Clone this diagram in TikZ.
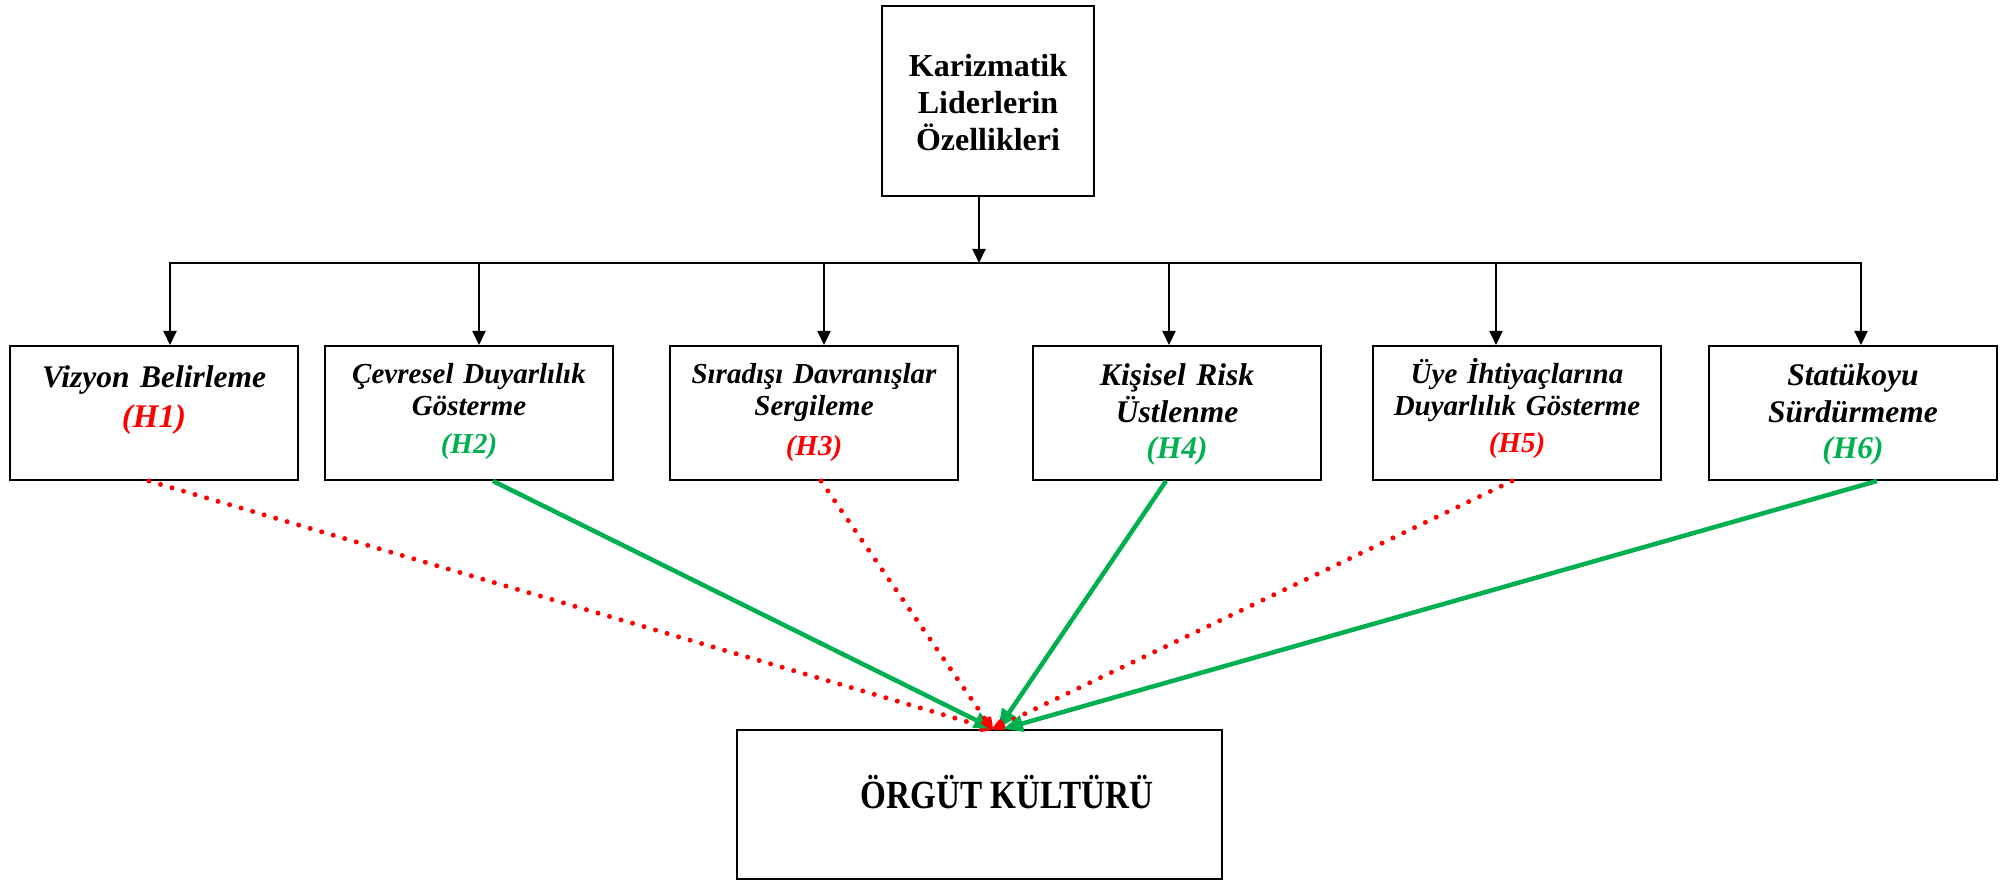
\documentclass[tikz,border=0pt]{standalone}
\usepackage{fontspec}
\setmainfont{Liberation Serif}
\usetikzlibrary{arrows.meta}
\definecolor{hred}{RGB}{255,0,0}
\definecolor{hgreen}{RGB}{0,176,80}
\begin{document}
\begin{tikzpicture}[x=1pt,y=-1pt,
  frame/.style={draw, line width=2pt, rectangle, inner sep=0pt},
  lbl/.style={anchor=base, align=center, inner sep=0pt, text width=#1},
  blk/.style={line width=2pt, line cap=rect},
  drop/.style={line width=2pt, -{Triangle[length=14pt,width=13pt]}},
  rejected/.style={hred, line width=5pt, line cap=round, dash pattern=on 0pt off 12pt,
    -{Triangle[length=15pt,width=13pt,round]}},
  supported/.style={hgreen, line width=4.5pt, -{Triangle[length=20pt,width=16pt]}},
  boxfont/.style={font=\fontsize{29}{32}\selectfont\bfseries\itshape},
  bigboxfont/.style={font=\fontsize{31.5}{37}\selectfont\bfseries\itshape}
]
\useasboundingbox (0,0) rectangle (2009,882);

% top concept
\node[frame, minimum width=212pt, minimum height=190pt] (top) at (988,101) {};
\node[lbl=210pt, font=\fontsize{32}{37}\selectfont\bfseries] (toptext) at (988,77)
  {Karizmatik\\Liderlerin\\Özellikleri};

% six dimensions
\node[frame, minimum width=288pt, minimum height=134pt] (b1) at (154,413) {};
\node[frame, minimum width=288pt, minimum height=134pt] (b2) at (469,413) {};
\node[frame, minimum width=288pt, minimum height=134pt] (b3) at (814,413) {};
\node[frame, minimum width=288pt, minimum height=134pt] (b4) at (1177,413) {};
\node[frame, minimum width=288pt, minimum height=134pt] (b5) at (1517,413) {};
\node[frame, minimum width=288pt, minimum height=134pt] (b6) at (1853,413) {};

\node[lbl=280pt, bigboxfont] (t1) at (154,387)
  {Vizyon Belirleme\\[3pt]{\fontsize{33}{37}\selectfont\color{hred}(H1)}};
\node[lbl=280pt, boxfont] (t2) at (469,383)
  {Çevresel Duyarlılık\\Gösterme\\[6pt]{\color{hgreen}(H2)}};
\node[lbl=280pt, boxfont] (t3) at (814,383)
  {Sıradışı Davranışlar\\Sergileme\\[8pt]{\color{hred}(H3)}};
\node[lbl=280pt, bigboxfont] (t4) at (1177,385)
  {Kişisel Risk\\Üstlenme\\[-1pt]{\color{hgreen}(H4)}};
\node[lbl=280pt, boxfont] (t5) at (1517,383)
  {Üye İhtiyaçlarına\\Duyarlılık Gösterme\\[5pt]{\color{hred}(H5)}};
\node[lbl=280pt, bigboxfont] (t6) at (1853,385)
  {Statükoyu\\Sürdürmeme\\[-1pt]{\color{hgreen}(H6)}};

% outcome
\node[frame, minimum width=485pt, minimum height=149pt] (bot) at (979.5,804.5) {};
\node[anchor=base, inner sep=0pt, font=\fontsize{40}{44}\selectfont\bfseries] (bottext) at (1007,808)
  {\scalebox{0.83}[1]{ÖRGÜT KÜLTÜRÜ}};

% distribution bus
\coordinate (bus) at (979,263);
\coordinate (d1) at (170,263);
\coordinate (d2) at (479,263);
\coordinate (d3) at (824,263);
\coordinate (d4) at (1169,263);
\coordinate (d5) at (1496,263);
\coordinate (d6) at (1861,263);
\draw[drop] (top.south -| bus) -- (bus);
\draw[blk] (d1) -- (d6);
\draw[drop] (d1) -- (d1 |- b1.north);
\draw[drop] (d2) -- (d2 |- b2.north);
\draw[drop] (d3) -- (d3 |- b3.north);
\draw[drop] (d4) -- (d4 |- b4.north);
\draw[drop] (d5) -- (d5 |- b5.north);
\draw[drop] (d6) -- (d6 |- b6.north);

% hypothesis links
\draw[rejected]  ([xshift=-5pt]b1.south)  -- ([xshift=12.5pt]bot.north);
\draw[supported] ([xshift=24pt]b2.south)  -- ([xshift=14.5pt]bot.north);
\draw[rejected]  ([xshift=7pt]b3.south)   -- ([xshift=12.5pt]bot.north);
\draw[supported] ([xshift=-11pt]b4.south) -- ([xshift=18.5pt]bot.north);
\draw[rejected]  ([xshift=-5pt]b5.south)  -- ([xshift=13.5pt]bot.north);
\draw[supported] ([xshift=24pt]b6.south)  -- ([xshift=23.5pt]bot.north);
\end{tikzpicture}
\end{document}
